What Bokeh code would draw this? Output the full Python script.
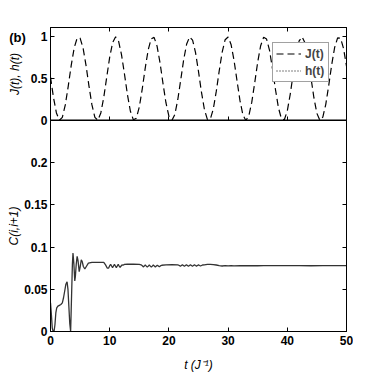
from bokeh.plotting import figure
from bokeh.models import (LinearAxis, FixedTicker, NumeralTickFormatter, Legend,
                          LegendItem, Range1d)
from bokeh.core.properties import value
from bokeh.layouts import column
from bokeh.embed import file_html
from bokeh.resources import INLINE

# ---------------- data ----------------
t_j = [i * 0.5 for i in range(101)]
j_vals = [0.519, 0.277, 0.090, 0.003, 0.038, 0.186, 0.411, 0.658, 0.866, 0.984,
          0.984, 0.866, 0.658, 0.411, 0.186, 0.038, 0.003, 0.090, 0.277, 0.519,
          0.756, 0.931, 1.000, 0.947, 0.784, 0.552, 0.307, 0.110, 0.008, 0.026,
          0.161, 0.378, 0.626, 0.842, 0.975, 0.992, 0.888, 0.689, 0.444, 0.212,
          0.052, 0.000, 0.072, 0.248, 0.486, 0.727, 0.913, 0.998, 0.960, 0.811,
          0.585, 0.338, 0.131, 0.014, 0.017, 0.137, 0.347, 0.593, 0.817, 0.964,
          0.997, 0.908, 0.719, 0.477, 0.240, 0.067, 0.000, 0.056, 0.219, 0.452,
          0.697, 0.893, 0.993, 0.972, 0.836, 0.617, 0.370, 0.154, 0.023, 0.009,
          0.115, 0.315, 0.561, 0.791, 0.950, 0.999, 0.926, 0.749, 0.510, 0.269,
          0.085, 0.002, 0.041, 0.193, 0.420, 0.666, 0.872, 0.987, 0.982, 0.860,
          0.649]

h_t = [0, 50]
h_vals = [0, 0]

t_c = [0.0, 0.15, 0.3, 0.45, 0.6, 0.75, 0.9, 1.05, 1.25, 1.5, 1.75, 2.0, 2.2, 2.4,
       2.6, 2.8, 2.95, 3.1, 3.25, 3.4, 3.55, 3.7, 3.8, 3.95, 4.1, 4.2, 4.35, 4.5,
       4.65, 4.85, 5.0, 5.2, 5.35, 5.55, 5.8, 6.05, 6.4, 7.0, 8.0, 9.0, 9.3, 9.6,
       9.8, 10.0, 10.16, 10.32, 10.48, 10.64, 10.8, 10.96, 11.12, 11.28, 11.44,
       11.6, 11.76, 11.92, 12.08, 12.24, 12.5, 13.0, 14.0, 15.0, 15.3, 15.5,
       15.67, 15.84, 16.01, 16.18, 16.35, 16.52, 16.69, 16.86, 17.03, 17.2,
       17.37, 17.54, 17.71, 17.88, 18.05, 18.22, 18.39, 18.56, 18.8, 19.5, 20.5,
       21.5, 21.77, 21.94, 22.11, 22.28, 22.45, 22.62, 22.79, 22.96, 23.13,
       23.3, 23.47, 23.64, 23.81, 23.98, 24.15, 24.32, 24.49, 24.66, 24.83,
       25.0, 25.17, 25.34, 25.51, 25.68, 26.0, 26.5, 27.0, 27.5, 28.0, 28.5,
       29.0, 29.5, 30.0, 30.5, 31.0, 32.0, 33.0, 34.0, 35.0, 36.0, 38.0, 40.0,
       42.0, 44.0, 46.0, 48.0, 50.0]
c_vals = [0.034, 0.020, 0.004, 0.000, 0.000, 0.008, 0.022, 0.028, 0.030, 0.031,
          0.032, 0.034, 0.040, 0.048, 0.056, 0.059, 0.050, 0.030, 0.010, 0.000,
          0.040, 0.080, 0.093, 0.080, 0.060, 0.065, 0.080, 0.089, 0.084, 0.071,
          0.076, 0.085, 0.083, 0.077, 0.074, 0.077, 0.081, 0.082, 0.082, 0.082,
          0.079, 0.075, 0.075, 0.078, 0.0795, 0.0776, 0.0757, 0.0776, 0.0795,
          0.0776, 0.0757, 0.0776, 0.0795, 0.0776, 0.0760, 0.0776, 0.0790, 0.0785,
          0.0795, 0.0797, 0.0797, 0.0795, 0.0790, 0.0780, 0.0765, 0.0775, 0.0787,
          0.0775, 0.0763, 0.0775, 0.0787, 0.0775, 0.0763, 0.0775, 0.0787, 0.0775,
          0.0765, 0.0775, 0.0785, 0.0777, 0.0768, 0.0777, 0.0785, 0.0790, 0.0792,
          0.0790, 0.0782, 0.0773, 0.0782, 0.0791, 0.0782, 0.0773, 0.0782, 0.0791,
          0.0782, 0.0773, 0.0782, 0.0790, 0.0782, 0.0774, 0.0782, 0.0790, 0.0782,
          0.0775, 0.0782, 0.0789, 0.0782, 0.0776, 0.0782, 0.0788, 0.0790, 0.0795,
          0.0796, 0.0793, 0.0788, 0.0780, 0.0776, 0.0781, 0.0777, 0.0781, 0.0778,
          0.0780, 0.0779, 0.0781, 0.0779, 0.0780, 0.0780, 0.0781, 0.0780, 0.0779,
          0.0780, 0.0781, 0.0780]

x_ticks = [0, 10, 20, 30, 40, 50]
top_y_ticks = [0, 0.5, 1]
bot_y_ticks = [0, 0.05, 0.1, 0.15, 0.2]
panel_tag = ["(b)"]

FONT = "Liberation Sans"


def style_axis(ax, ticks, fmt=None):
    ax.ticker = FixedTicker(ticks=ticks)
    ax.major_tick_in = 4
    ax.major_tick_out = 0
    ax.minor_tick_line_color = None
    ax.major_tick_line_color = "black"
    ax.axis_line_color = "black"
    if fmt is not None:
        ax.formatter = fmt
        ax.major_label_text_font = FONT
        ax.major_label_text_font_style = "bold"
        ax.major_label_text_font_size = "12px"
        ax.major_label_text_color = "black"
        ax.major_label_standoff = 3
    else:
        # tick-only frame side (box on): no tick labels
        ax.major_label_overrides = {tk: "" for tk in ticks}
        ax.major_label_text_font_size = "1px"
        ax.major_label_standoff = 0


def style_axis_label(ax, text, standoff):
    ax.axis_label = text
    ax.axis_label_text_font = FONT
    ax.axis_label_text_font_style = "italic"
    ax.axis_label_text_font_size = "12px"
    ax.axis_label_text_color = "black"
    ax.axis_label_standoff = standoff


xr = Range1d(0, 50)

# ---------------- top panel ----------------
top = figure(width=353, height=128, x_range=xr, y_range=Range1d(0, 1.11),
             output_backend="svg", toolbar_location=None,
             x_axis_location=None, y_axis_location="left",
             min_border_left=50, min_border_right=7, min_border_top=27,
             min_border_bottom=8, margin=(0, 0, -8, 0))
top.grid.visible = False
top.outline_line_color = "black"
top.outline_line_width = 1
style_axis(top.yaxis[0], top_y_ticks, NumeralTickFormatter(format="0.[0]"))
style_axis_label(top.yaxis[0], "J(t), h(t)", 6)
for loc in ("above", "below"):
    a = LinearAxis()
    style_axis(a, x_ticks)
    if loc == "below":
        a.axis_line_width = 2
    top.add_layout(a, loc)
ar = LinearAxis()
style_axis(ar, top_y_ticks)
top.add_layout(ar, "right")

r_j = top.line(t_j, j_vals, line_color="black", line_width=1.2, line_dash="7 4")
r_h = top.line(h_t, h_vals, line_color="black", line_width=1, line_dash="1 2")

legend = Legend(items=[LegendItem(label="J(t)", renderers=[r_j]),
                       LegendItem(label="h(t)", renderers=[r_h])],
                location=(222, 38), margin=0, padding=3, spacing=2,
                glyph_width=25, glyph_height=15, label_height=15,
                label_standoff=4, label_text_font=FONT,
                label_text_font_style="bold", label_text_font_size="12px",
                border_line_color="#444444", border_line_width=1,
                background_fill_color="white", background_fill_alpha=1)
top.add_layout(legend)

# ---------------- bottom panel ----------------
bot = figure(width=353, height=254, x_range=xr, y_range=Range1d(0, 0.25),
             output_backend="svg", toolbar_location=None,
             min_border_left=50, min_border_right=7, min_border_top=0,
             min_border_bottom=42)
bot.grid.visible = False
bot.border_fill_alpha = 0
bot.outline_line_color = "black"
bot.outline_line_width = 1
style_axis(bot.xaxis[0], x_ticks, NumeralTickFormatter(format="0"))
bot.xaxis[0].major_label_standoff = 4
style_axis_label(bot.xaxis[0], "t (J\u207b\u00b9)", 10)
style_axis(bot.yaxis[0], bot_y_ticks, NumeralTickFormatter(format="0.[00]"))
style_axis_label(bot.yaxis[0], "C(i,i+1)", 0)
br = LinearAxis()
style_axis(br, bot_y_ticks)
bot.add_layout(br, "right")

bot.line(t_c, c_vals, line_color="#333333", line_width=1.3)

# ------------- panel tag "(b)", a transparent strip overlaid on the upper-left -------------
TAG_W = 100
tag = figure(width=TAG_W, height=20, x_range=Range1d(0, TAG_W), y_range=Range1d(0, 1),
             output_backend="svg", toolbar_location=None,
             x_axis_location=None, y_axis_location=None, min_border=0,
             margin=(-347, 0, 327, 2))
if "frame_align" in tag.properties():
    tag.frame_align = False   # keep its frame = its own canvas (no column alignment)
tag.grid.visible = False
tag.outline_line_color = None
tag.border_fill_alpha = 0
tag.background_fill_alpha = 0
tag.text(x=[15], y=[0.5], text=panel_tag, text_align="center",
         text_baseline="middle", text_font=value(FONT),
         text_font_style="bold", text_font_size="13px", text_color="black")

layout = column(top, bot, tag, spacing=0)
open("out.html", "w").write(file_html(layout, INLINE))
